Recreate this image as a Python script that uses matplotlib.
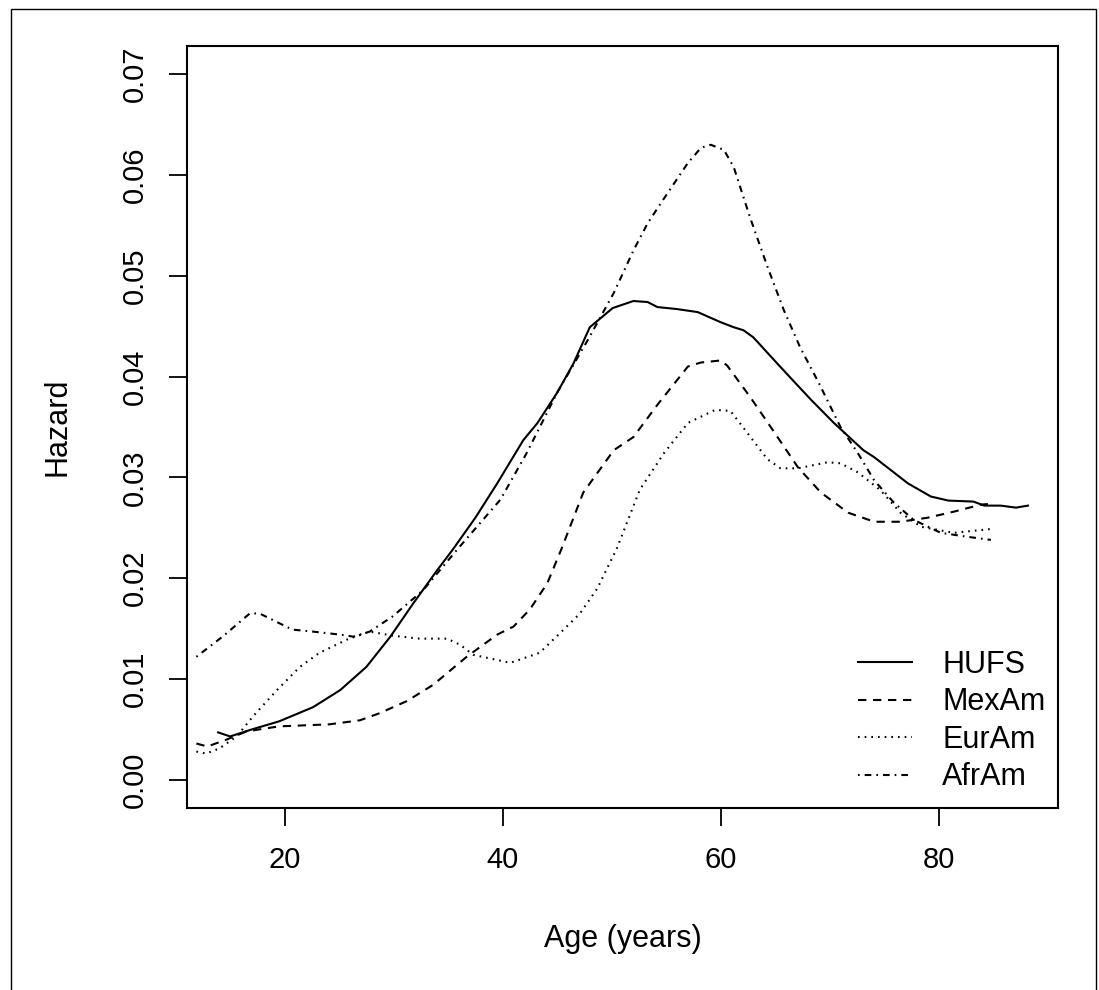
import matplotlib
matplotlib.use("Agg")
import matplotlib.pyplot as plt
from matplotlib.patches import Rectangle

# ---- data ----
hufs_age = [13.9, 15.0, 17.0, 19.5, 22.6, 25.1, 27.5, 29.7, 31.8, 34.0, 35.4, 37.5, 39.5, 41.9,
            43.2, 45.0, 46.5, 48.0, 50.1, 52.0, 53.3, 54.2, 56.0, 57.9, 60.0, 61.2, 62.1, 63.0,
            65.2, 66.4, 68.3, 70.4, 73.1, 74.1, 77.2, 79.3, 80.9, 83.2, 84.2, 85.7, 87.1, 88.2]
hufs_haz = [0.0047, 0.0043, 0.0050, 0.0058, 0.0072, 0.0089, 0.0112, 0.0142, 0.0175, 0.0208,
            0.0228, 0.0260, 0.0294, 0.0337, 0.0354, 0.0384, 0.0413, 0.0449, 0.0468, 0.0475,
            0.0474, 0.0469, 0.0467, 0.0464, 0.0454, 0.0449, 0.0446, 0.0439, 0.0413, 0.0399,
            0.0377, 0.0354, 0.0327, 0.0320, 0.0294, 0.0281, 0.0277, 0.0276, 0.0272, 0.0272,
            0.0270, 0.0272]

mex_age = [11.9, 12.9, 14.7, 16.5, 19.5, 24.1, 26.9, 28.7, 31.2, 33.6, 36.7, 39.5, 41.0, 42.5,
           44.1, 45.4, 47.4, 50.2, 52.0, 54.2, 57.0, 58.2, 60.0, 60.6, 62.7, 64.6, 67.1, 69.2,
           71.7, 74.1, 76.5, 79.0, 81.4, 83.9, 85.0]
mex_haz = [0.0036, 0.0033, 0.0040, 0.0048, 0.0053, 0.0055, 0.0059, 0.0066, 0.0078, 0.0094,
           0.0122, 0.0144, 0.0152, 0.0169, 0.0195, 0.0229, 0.0285, 0.0327, 0.0340, 0.0372,
           0.0410, 0.0414, 0.0416, 0.0411, 0.0380, 0.0350, 0.0310, 0.0285, 0.0265, 0.0256,
           0.0256, 0.0260, 0.0266, 0.0273, 0.0274]

eur_age = [11.9, 12.8, 14.0, 15.6, 17.1, 19.3, 21.4, 23.2, 25.7, 27.8, 29.9, 32.4, 34.9, 36.1,
           37.3, 40.7, 43.4, 45.6, 47.1, 48.7, 50.5, 52.6, 54.8, 57.0, 59.5, 60.9, 61.9, 64.3,
           65.5, 67.1, 69.8, 71.0, 72.6, 74.7, 76.5, 78.4, 81.4, 83.2, 85.0]
eur_haz = [0.0028, 0.0026, 0.0031, 0.0043, 0.0063, 0.0089, 0.0112, 0.0126, 0.0139, 0.0147,
           0.0143, 0.0140, 0.0140, 0.0134, 0.0124, 0.0116, 0.0126, 0.0149, 0.0165, 0.0190,
           0.0230, 0.0288, 0.0324, 0.0354, 0.0367, 0.0366, 0.0352, 0.0318, 0.0309, 0.0309,
           0.0315, 0.0314, 0.0305, 0.0287, 0.0265, 0.0251, 0.0245, 0.0247, 0.0249]

afr_age = [11.9, 14.3, 16.8, 17.7, 20.7, 22.6, 25.1, 26.3, 27.8, 29.9, 32.7, 35.8, 39.8, 42.2,
           45.0, 47.8, 50.2, 52.0, 53.3, 54.7, 57.0, 58.2, 59.1, 60.3, 61.2, 62.7, 64.3, 65.8,
           67.3, 69.0, 71.0, 72.6, 74.1, 75.9, 77.7, 80.2, 82.7, 84.8]
afr_haz = [0.0122, 0.0142, 0.0165, 0.0165, 0.0149, 0.0147, 0.0144, 0.0142, 0.0147, 0.0162,
           0.0188, 0.0228, 0.0278, 0.0324, 0.0384, 0.0436, 0.0483, 0.0525, 0.0552, 0.0575,
           0.0612, 0.0627, 0.0630, 0.0625, 0.0608, 0.0558, 0.0509, 0.0466, 0.0429, 0.0394,
           0.0350, 0.0324, 0.0297, 0.0275, 0.0258, 0.0245, 0.0241, 0.0238]

series_labels = ["HUFS", "MexAm", "EurAm", "AfrAm"]
x_ticks = [20, 40, 60, 80]
y_ticks = [0.00, 0.01, 0.02, 0.03, 0.04, 0.05, 0.06, 0.07]
y_tick_labels = ["0.00", "0.01", "0.02", "0.03", "0.04", "0.05", "0.06", "0.07"]

# ---- figure ----
plt.rcParams['font.family'] = ['Liberation Sans', 'DejaVu Sans']
FS_TICK = 21
FS_LAB = 22
fig = plt.figure(figsize=(10.99, 9.90), dpi=100)
fig.patch.set_facecolor('white')
ax = fig.add_axes([187/1099, (990-808)/990, (1058-187)/1099, (808-46)/990])

lw = 1.5
styles = ['-', (0, (4.0, 3.2)), (0, (0.8, 2.4)), (0, (0.8, 2.4, 3.2, 2.4))]
data = [(hufs_age, hufs_haz), (mex_age, mex_haz), (eur_age, eur_haz), (afr_age, afr_haz)]
for (xa, ya), ls, lab in zip(data, styles, series_labels):
    ax.plot(xa, ya, color='black', lw=lw, linestyle=ls, label=lab,
            dash_capstyle='butt', solid_joinstyle='round')

ax.set_xlim(11.04, 90.96)
ax.set_ylim(-0.0028, 0.0728)
ax.set_xticks(x_ticks)
ax.set_xticklabels([str(t) for t in x_ticks])
ax.set_yticks(y_ticks)
ax.set_yticklabels(y_tick_labels)
ax.tick_params(axis='both', direction='out', length=13.3, width=1.3, labelsize=FS_TICK,
               pad=14, color='black')
ax.tick_params(axis='y', labelrotation=90)
for t in ax.get_yticklabels():
    t.set_va('center')
for s in ax.spines.values():
    s.set_linewidth(1.5)

ax.set_xlabel("Age (years)", fontsize=FS_LAB, va='center')
ax.set_ylabel("Hazard", fontsize=FS_LAB, va='center')
ax.xaxis.set_label_coords(0.5, (808-939)/762)
ax.yaxis.set_label_coords((58-187)/871, 0.5)

leg = ax.legend(loc='upper left', bbox_to_anchor=((858-187)/871, (808-650)/762),
                frameon=False, fontsize=FS_LAB, borderpad=0, borderaxespad=0,
                handlelength=1.77, handletextpad=0.98, labelspacing=0.245)

# outer border of the figure
fig.patches.append(Rectangle((11/1099, -0.02), (1096-11)/1099, (990-9)/990 + 0.02,
                             transform=fig.transFigure, fill=False, edgecolor='black',
                             linewidth=1.0))

fig.savefig("out.png", dpi=100, facecolor='white')
